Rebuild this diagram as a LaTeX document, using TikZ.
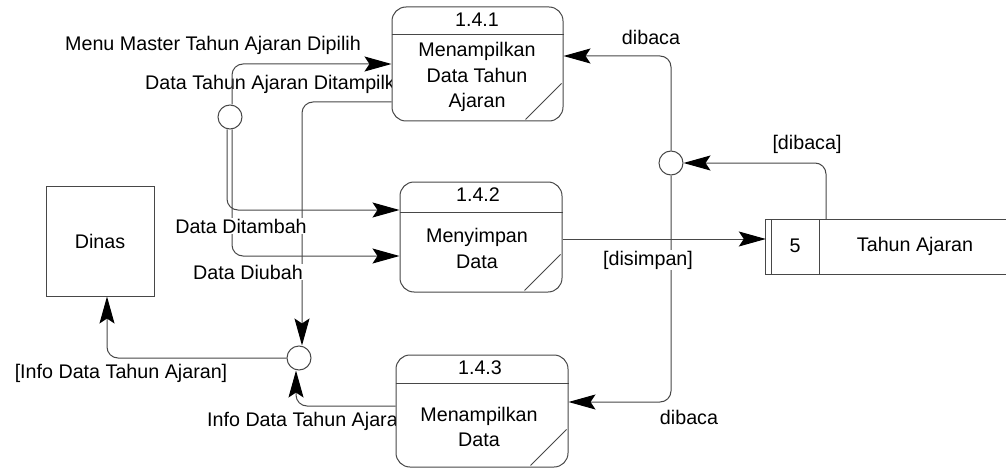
\documentclass[tikz,border=0pt]{standalone}
\usepackage{fontspec}
\setmainfont{Liberation Sans}
\usetikzlibrary{arrows.meta}
\begin{document}
\begin{tikzpicture}[x=1pt,y=-1pt,
  every node/.style={font=\fontsize{19.7}{25.5}\selectfont, inner sep=0pt},
  ln/.style={draw=black!72, line width=1pt},
  flow/.style={ln, rounded corners=11pt, -{Stealth[length=27pt,width=15pt,inset=5pt,color=black,fill=black]}},
  proc/.style={ln, fill=white, rounded corners=14pt, rectangle},
  junction/.style={ln, fill=white, circle, minimum size=24pt},
  lbl/.style={fill=white, inner sep=1pt},
  txt/.style={align=center}
]
\useasboundingbox (0,0) rectangle (1006,468);

% labels partly covered by the process boxes
\node[anchor=west] (lshow) at (145,84) {Data Tahun Ajaran Ditampilkan};
\node[anchor=west] (linfo) at (207,421) {Info Data Tahun Ajaran};

% processes
\node[proc, minimum width=171pt, minimum height=114pt] (p1) at (477.5,64) {};
\node[proc, minimum width=162pt, minimum height=110pt] (p2) at (481,237) {};
\node[proc, minimum width=172pt, minimum height=112pt] (p3) at (482,411) {};
\draw[ln] (p1.west |- 0,35) -- (p1.east |- 0,35);
\draw[ln] (p2.west |- 0,212) -- (p2.east |- 0,212);
\draw[ln] (p3.west |- 0,383) -- (p3.east |- 0,383);
\foreach \p in {p1,p2,p3}
  \draw[ln] ([shift={(-38,-2)}]\p.south east) -- ([shift={(-2,-38)}]\p.south east);
\node (p1num) at (477,20) {1.4.1};
\node[txt] (p1txt) at (477,77) {Menampilkan\\Data Tahun\\Ajaran};
\node (p2num) at (478,195) {1.4.2};
\node[txt] (p2txt) at (477,248.5) {Menyimpan\\Data};
\node (p3num) at (480,368) {1.4.3};
\node[txt] (p3txt) at (479,427) {Menampilkan\\Data};

% external entity
\node[ln, rectangle, minimum width=108pt, minimum height=110pt] (dinas) at (100,241) {Dinas};

% data store
\node[minimum width=240pt, minimum height=54pt] (ds) at (886,247) {};
\draw[ln] (ds.north east) -- (ds.north west) -- (ds.south west) -- (ds.south east);
\draw[ln] ([xshift=6]ds.north west) -- ([xshift=6]ds.south west);
\draw[ln] ([xshift=54]ds.north west) -- ([xshift=54]ds.south west);
\node (dsnum) at (795,246) {5};
\node (dsname) at (915,246) {Tahun Ajaran};

% junctions
\node[junction] (c1) at (230,117) {};
\node[junction] (c2) at (671,163) {};
\node[junction] (c3) at (299,358) {};

% flows
\draw[flow] ([xshift=2]c1.north) |- (p1.west);
\draw[flow] (p1.west |- 0,102) -| ([xshift=3]c3.north);
\draw[flow] ([xshift=-3]c1.south) |- (p2.west |- 0,210);
\draw[flow] ([xshift=2]c1.south) |- (p2.west |- 0,256);
\draw[flow] (p2.east |- 0,239) -- (ds.west |- 0,239);
\draw[flow] (826,0 |- ds.north) |- (c2.east);
\draw[flow] (c2.north) |- (p1.east |- 0,56);
\draw[flow] (c2.south) |- (p3.east |- 0,402);
\draw[flow] (c3.west) -| ([xshift=7]dinas.south);
\draw[flow] (p3.west |- 0,406) -| ([xshift=-3]c3.south);

% flow labels
\node (lmenu) at (213,45) {Menu Master Tahun Ajaran Dipilih};
\node[lbl] (ladd) at (241,226) {Data Ditambah};
\node[lbl] (ledit) at (248,272) {Data Diubah};
\node (lread1) at (651,37) {dibaca};
\node (lread2) at (807,144) {[dibaca]};
\node[lbl] (lsave) at (648,260) {[disimpan]};
\node (lread3) at (689,417) {dibaca};
\node (linfo2) at (121,373) {[Info Data Tahun Ajaran]};
\end{tikzpicture}
\end{document}
